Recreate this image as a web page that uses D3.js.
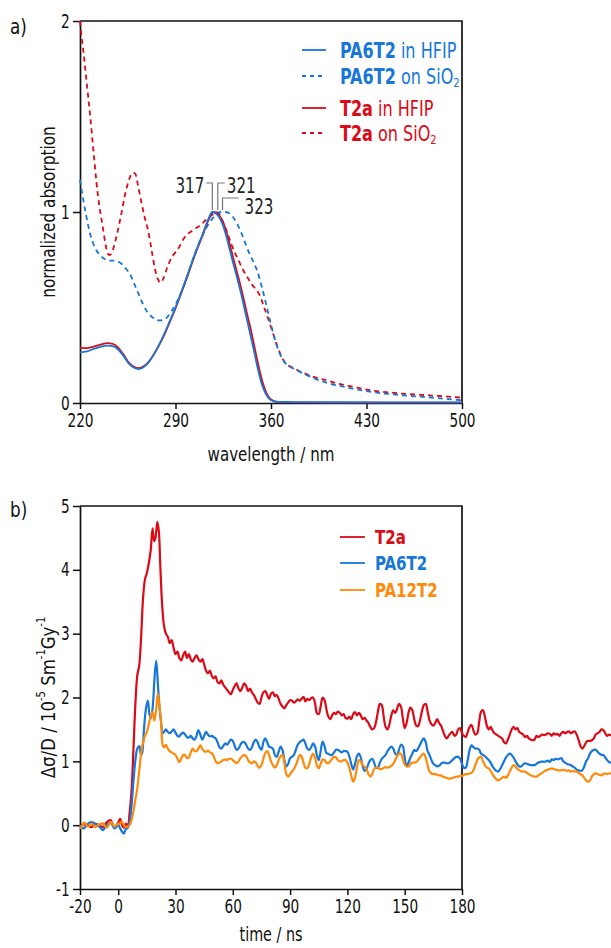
<!DOCTYPE html>
<html>
<head>
<meta charset="utf-8">
<script src="https://cdn.jsdelivr.net/npm/d3@7"></script>
<style>
  html, body { margin: 0; padding: 0; background: #fff; }
  svg { display: block; }
</style>
</head>
<body>
<svg id="fig" width="611" height="948"></svg>
<script>
// ---------- a) UV-vis absorption spectra: [wavelength nm, normalized absorption] ----------
const pa6t2Hfip = [[220,0.265],[225,0.27],[230,0.283],[235,0.294],[240,0.30],[244,0.298],[248,0.28],[252,0.245],[256,0.205],[260,0.183],[263,0.178],[266,0.185],[270,0.21],[275,0.265],[280,0.335],[285,0.415],[290,0.50],[295,0.595],[300,0.695],[305,0.795],[310,0.885],[314,0.962],[317,1.0],[320,0.99],[323,0.96],[326,0.905],[329,0.825],[332,0.74],[335,0.66],[338,0.575],[341,0.48],[344,0.385],[347,0.29],[350,0.19],[353,0.105],[356,0.05],[359,0.02],[362,0.009],[366,0.006],[375,0.005],[400,0.004],[450,0.003],[500,0.003]];
const t2aHfip = [[220,0.29],[225,0.287],[230,0.295],[235,0.305],[240,0.313],[244,0.31],[248,0.29],[252,0.252],[256,0.21],[260,0.188],[263,0.183],[266,0.19],[270,0.213],[275,0.265],[280,0.33],[285,0.41],[290,0.495],[295,0.59],[300,0.69],[305,0.79],[310,0.88],[314,0.955],[318,1.0],[321,0.99],[324,0.96],[327,0.905],[330,0.825],[333,0.74],[336,0.66],[339,0.575],[342,0.48],[345,0.39],[348,0.29],[351,0.19],[354,0.105],[357,0.048],[360,0.018],[364,0.006],[370,0.003],[400,0.002],[500,0.002]];
const t2aSio2 = [[220,2.0],[221,1.93],[222.5,1.84],[225,1.67],[227.5,1.50],[230,1.31],[232,1.16],[234,1.04],[236.5,0.93],[238.5,0.84],[240.5,0.78],[242,0.775],[244,0.80],[247,0.88],[250,0.98],[253,1.09],[256,1.17],[258.5,1.205],[260.5,1.2],[262.5,1.14],[265,1.05],[267.5,0.97],[270,0.90],[272.5,0.80],[275,0.70],[277,0.65],[279,0.63],[281,0.65],[284,0.71],[287,0.76],[290,0.79],[293,0.82],[296,0.86],[299,0.885],[302,0.9],[305,0.915],[308,0.93],[311,0.95],[314,0.97],[317,0.985],[320,1.0],[322,0.99],[325,0.945],[328,0.89],[331,0.83],[334,0.78],[337,0.735],[340,0.69],[343,0.655],[346,0.62],[349,0.595],[352,0.56],[355,0.5],[358,0.44],[361,0.375],[364,0.31],[367,0.255],[370,0.215],[373,0.195],[376,0.185],[380,0.17],[390,0.14],[400,0.12],[410,0.10],[420,0.085],[430,0.07],[440,0.06],[450,0.053],[460,0.047],[470,0.043],[480,0.038],[490,0.033],[500,0.028]];
const pa6t2Sio2 = [[220,1.17],[222,1.08],[224,1.0],[226,0.93],[228,0.87],[230,0.83],[232,0.80],[234,0.78],[236,0.765],[239,0.75],[242,0.745],[245,0.745],[248,0.74],[251,0.725],[254,0.70],[257,0.67],[260,0.62],[263,0.57],[266,0.52],[269,0.48],[272,0.455],[275,0.44],[278,0.432],[281,0.435],[284,0.45],[287,0.48],[290,0.515],[293,0.56],[296,0.61],[299,0.67],[302,0.735],[305,0.795],[308,0.85],[311,0.895],[314,0.935],[317,0.965],[320,0.985],[323,1.0],[326,1.0],[329,0.995],[332,0.975],[335,0.94],[338,0.895],[341,0.84],[344,0.785],[347,0.74],[350,0.69],[353,0.615],[356,0.53],[359,0.44],[362,0.355],[365,0.285],[368,0.235],[371,0.205],[374,0.19],[378,0.175],[385,0.15],[393,0.125],[401,0.105],[410,0.09],[420,0.075],[430,0.062],[440,0.052],[450,0.045],[460,0.038],[470,0.033],[480,0.027],[490,0.02],[500,0.015]];
const peakLabels = [317, 321, 323];
const wavelengthTicks = [220, 290, 360, 430, 500];
const absorptionTicks = [0, 1, 2];

// ---------- b) PR-TRMC transients: [time ns, delta sigma / D in 1e-5 S m^-1 Gy^-1] ----------
const t2aTrace = [[-20,-0.02],[-18,0.01],[-16,0.0],[-14,-0.03],[-12,0.02],[-10,0.0],[-8,-0.03],[-6,0.05],[-4,0.08],[-3,0.02],[-2,-0.03],[0,0.04],[1,0.1],[2,0.0],[3,-0.04],[4,0.02],[5,0.0],[6,0.2],[7,0.55],[8,1.2],[9,1.9],[10,2.35],[11,2.5],[12,2.95],[13,3.55],[14,3.85],[15,3.95],[16,4.1],[17,4.3],[18,4.65],[18.8,4.45],[19.5,4.5],[20.5,4.75],[21.3,4.6],[22,4.1],[23,3.45],[24,3.12],[25,3.0],[26,2.95],[27,2.85],[28,2.9],[29,2.78],[30,2.68],[31,2.72],[32,2.62],[33,2.58],[34,2.66],[35,2.72],[36,2.62],[37,2.68],[38,2.6],[39,2.56],[40,2.62],[41,2.66],[42,2.6],[43,2.56],[44,2.6],[45,2.52],[46,2.42],[47,2.38],[48,2.42],[49,2.34],[50,2.3],[51,2.33],[52,2.24],[53,2.22],[54,2.27],[55,2.2],[56,2.16],[57,2.12],[58,2.08],[59,2.05],[60,2.12],[61,2.18],[62,2.22],[63,2.14],[64,2.1],[65,2.16],[66,2.22],[67,2.18],[68,2.1],[69,2.14],[70,2.08],[71,2.04],[72,1.98],[73,1.92],[74,1.9],[75,2.0],[76,2.08],[77,2.1],[78,2.04],[79,1.98],[80,2.06],[81,2.08],[82,2.02],[83,2.04],[84,1.98],[85,1.9],[86,1.86],[87,1.83],[88,1.88],[89,1.92],[90,1.96],[91,1.95],[92,1.92],[93,1.94],[94,1.97],[95,1.95],[96,1.98],[97,2.01],[98,1.94],[99,1.98],[100,1.96],[101,1.99],[102,2.0],[103,1.92],[104,1.76],[105,1.74],[106,1.86],[107,2.0],[108,1.96],[109,1.82],[110,1.7],[111,1.66],[112,1.72],[113,1.76],[114,1.74],[115,1.78],[116,1.76],[117,1.72],[118,1.74],[119,1.68],[120,1.67],[121,1.7],[122,1.66],[123,1.74],[124,1.77],[125,1.72],[126,1.76],[127,1.72],[128,1.66],[129,1.68],[130,1.64],[131,1.6],[132,1.54],[133,1.5],[134,1.52],[135,1.62],[136,1.78],[137,1.9],[138,1.88],[139,1.7],[140,1.54],[141,1.5],[142,1.58],[143,1.72],[144,1.8],[145,1.76],[146,1.82],[147,1.9],[148,1.86],[149,1.68],[150,1.52],[151,1.6],[152,1.76],[153,1.84],[154,1.8],[155,1.66],[156,1.56],[157,1.55],[158,1.64],[159,1.78],[160,1.88],[161,1.9],[162,1.78],[163,1.64],[164,1.58],[165,1.56],[166,1.6],[167,1.66],[168,1.6],[169,1.56],[170,1.48],[171,1.4],[172,1.36],[173,1.4],[174,1.44],[175,1.46],[176,1.4],[177,1.42],[178,1.5],[179,1.52],[180,1.44],[181,1.4],[182,1.38],[183,1.46],[184,1.54],[185,1.57],[186,1.48],[187,1.42],[188,1.44],[189,1.62],[190,1.78],[191,1.8],[192,1.7],[193,1.56],[194,1.5],[195,1.54],[196,1.48],[197,1.44],[198,1.42],[199,1.4],[200,1.38],[201,1.36],[202,1.3],[203,1.28],[204,1.34],[205,1.42],[206,1.5],[207,1.54],[208,1.5],[209,1.52],[210,1.46],[211,1.44],[212,1.42],[213,1.38],[214,1.4],[215,1.36],[216,1.34],[217,1.33],[218,1.34],[219,1.4],[220,1.38],[221,1.4],[222,1.42],[223,1.41],[224,1.42],[225,1.44],[226,1.43],[227,1.4],[228,1.44],[229,1.42],[230,1.43],[231,1.4],[232,1.44],[233,1.46],[234,1.44],[235,1.46],[236,1.47],[237,1.44],[238,1.46],[239,1.47],[240,1.42],[241,1.34],[242,1.24],[243,1.2],[244,1.24],[245,1.3],[246,1.32],[247,1.32],[248,1.33],[249,1.36],[250,1.42],[251,1.44],[252,1.46],[253,1.5],[254,1.49],[255,1.44],[256,1.4],[257,1.42],[258,1.4]];
const pa6t2Trace = [[-20,0.0],[-19,-0.04],[-18,-0.05],[-17,-0.02],[-16,0.02],[-15,0.04],[-14,0.05],[-13,0.04],[-12,0.02],[-11,0.0],[-10,-0.02],[-9,-0.05],[-8,-0.08],[-7,-0.04],[-6,0.0],[-5,0.03],[-4,0.04],[-3,0.0],[-2,-0.05],[-1,-0.03],[0,0.01],[1,-0.05],[2,-0.1],[3,-0.13],[4,-0.06],[5,-0.04],[6,0.05],[7,0.3],[8,0.7],[9,1.02],[10,1.2],[11,1.24],[12,1.1],[12.6,1.14],[13.5,1.5],[14.5,1.82],[15.5,1.95],[16.5,1.72],[17.2,1.68],[18.2,1.9],[19,2.3],[19.9,2.58],[20.8,2.2],[21.6,1.85],[22.5,1.6],[23.3,1.44],[24,1.46],[25,1.5],[26,1.46],[27,1.44],[28,1.47],[29,1.5],[30,1.45],[31,1.4],[32,1.39],[33,1.43],[34,1.45],[35,1.42],[36,1.38],[37,1.37],[38,1.4],[39,1.36],[40,1.34],[41,1.4],[42,1.49],[43,1.42],[44,1.34],[45,1.4],[46,1.46],[47,1.42],[48,1.39],[49,1.4],[50,1.38],[51,1.36],[52,1.3],[53,1.22],[54,1.2],[55,1.24],[56,1.28],[57,1.26],[58,1.3],[59,1.34],[60,1.32],[61,1.24],[62,1.18],[63,1.2],[64,1.26],[65,1.3],[66,1.3],[67,1.26],[68,1.2],[69,1.18],[70,1.22],[71,1.3],[72,1.34],[73,1.3],[74,1.22],[75,1.18],[76,1.3],[77,1.36],[78,1.3],[79,1.23],[80,1.22],[81,1.2],[82,1.1],[83,1.07],[84,1.15],[85,1.23],[86,1.18],[87,1.02],[88,0.92],[89,0.96],[90,1.05],[91,1.07],[92,1.1],[93,1.18],[94,1.26],[95,1.3],[96,1.32],[97,1.34],[98,1.28],[99,1.2],[100,1.18],[101,1.22],[102,1.28],[103,1.24],[104,1.1],[105,1.02],[106,1.16],[107,1.31],[108,1.24],[109,1.13],[110,1.12],[111,1.1],[112,1.1],[113,1.14],[114,1.18],[115,1.18],[116,1.16],[117,1.14],[118,1.16],[119,1.16],[120,1.15],[121,1.08],[122,0.96],[123,0.87],[124,0.96],[125,1.08],[126,1.12],[127,1.06],[128,0.92],[129,0.85],[130,0.88],[131,0.96],[132,1.02],[133,1.04],[134,0.98],[135,0.9],[136,0.9],[137,0.98],[138,1.04],[139,1.07],[140,1.1],[141,1.16],[142,1.2],[143,1.23],[144,1.2],[145,1.12],[146,1.1],[147,1.18],[148,1.26],[149,1.24],[150,1.06],[151,0.93],[152,0.98],[153,1.06],[154,1.12],[155,1.18],[156,1.16],[157,1.2],[158,1.26],[159,1.32],[160,1.36],[161,1.3],[162,1.16],[163,1.1],[164,1.02],[165,0.96],[166,0.94],[167,0.92],[168,0.93],[169,0.96],[170,0.98],[171,0.98],[172,0.97],[173,0.97],[174,0.99],[175,1.02],[176,1.05],[177,1.07],[178,1.07],[179,1.04],[180,0.96],[181,0.9],[182,0.9],[183,1.02],[184,1.18],[185,1.25],[186,1.22],[187,1.2],[188,1.2],[189,1.18],[190,1.12],[191,1.1],[192,1.08],[193,1.05],[194,1.02],[195,0.98],[196,0.92],[197,0.88],[198,0.85],[199,0.84],[200,0.88],[201,0.94],[202,1.0],[203,1.06],[204,1.1],[205,1.12],[206,1.1],[207,1.06],[208,1.0],[209,0.95],[210,0.92],[211,0.92],[212,0.95],[213,0.97],[214,0.96],[215,0.95],[216,0.94],[217,0.94],[218,0.94],[219,0.96],[220,0.98],[221,0.99],[222,1.0],[223,0.99],[224,1.0],[225,1.01],[226,0.99],[227,1.03],[228,1.02],[229,1.04],[230,1.03],[231,1.04],[232,1.05],[233,1.0],[234,0.98],[235,0.96],[236,0.95],[237,0.94],[238,0.92],[239,0.9],[240,0.87],[241,0.86],[242,0.85],[243,0.86],[244,0.92],[245,1.0],[246,1.05],[247,1.12],[248,1.16],[249,1.18],[250,1.18],[251,1.15],[252,1.12],[253,1.1],[254,1.1],[255,1.06],[256,1.02],[257,0.99],[258,0.98]];
const pa12t2Trace = [[-20,-0.05],[-19,-0.02],[-18,0.04],[-17,0.02],[-16,-0.02],[-15,-0.01],[-14,0.02],[-13,0.0],[-12,-0.03],[-11,-0.01],[-10,0.01],[-9,0.02],[-8,0.03],[-7,-0.01],[-6,-0.04],[-5,0.0],[-4,0.05],[-3,0.02],[-2,-0.02],[-1,0.0],[0,0.02],[1,0.04],[2,0.05],[3,0.0],[4,-0.03],[5,-0.02],[6,0.0],[7,0.08],[8,0.22],[9,0.4],[10,0.58],[11,0.85],[12,1.12],[13,1.3],[14,1.4],[15,1.46],[16,1.58],[17,1.7],[18,1.77],[19,1.64],[20,1.85],[20.7,2.06],[21.5,1.9],[22.5,1.6],[23.3,1.25],[24,1.22],[25,1.26],[26,1.2],[27,1.16],[28,1.14],[29,1.12],[30,1.1],[31,1.04],[32,0.99],[33,1.04],[34,1.1],[35,1.1],[36,1.05],[37,1.06],[38,1.14],[39,1.2],[40,1.16],[41,1.16],[42,1.2],[43,1.25],[44,1.2],[45,1.16],[46,1.15],[47,1.17],[48,1.14],[49,1.13],[50,1.08],[51,1.0],[52,0.97],[53,0.98],[54,1.0],[55,1.02],[56,1.03],[57,1.02],[58,1.04],[59,1.04],[60,1.02],[61,0.99],[62,0.97],[63,1.0],[64,1.05],[65,1.08],[66,1.1],[67,1.08],[68,1.02],[69,0.98],[70,0.97],[71,1.0],[72,0.98],[73,0.93],[74,0.9],[75,0.94],[76,1.04],[77,1.13],[78,1.16],[79,1.1],[80,1.0],[81,0.94],[82,0.9],[83,0.94],[84,1.02],[85,1.08],[86,1.1],[87,0.98],[88,0.8],[89,0.76],[90,0.8],[91,0.84],[92,0.88],[93,0.94],[94,1.02],[95,1.1],[96,1.08],[97,0.98],[98,0.9],[99,0.89],[100,0.96],[101,1.06],[102,1.12],[103,1.06],[104,0.94],[105,0.89],[106,0.96],[107,1.03],[108,1.02],[109,0.98],[110,0.97],[111,1.0],[112,1.04],[113,1.07],[114,1.06],[115,1.02],[116,1.0],[117,1.0],[118,1.02],[119,1.02],[120,0.98],[121,0.9],[122,0.78],[123,0.68],[124,0.74],[125,0.9],[126,1.02],[127,1.0],[128,0.94],[129,0.92],[130,0.88],[131,0.8],[132,0.76],[133,0.8],[134,0.88],[135,0.9],[136,0.9],[137,0.88],[138,0.88],[139,0.9],[140,0.91],[141,0.9],[142,0.91],[143,0.93],[144,0.96],[145,1.02],[146,1.08],[147,1.12],[148,1.12],[149,1.04],[150,0.95],[151,0.92],[152,0.92],[153,0.96],[154,0.98],[155,0.98],[156,0.99],[157,1.02],[158,1.06],[159,1.1],[160,1.12],[161,1.06],[162,0.94],[163,0.84],[164,0.81],[165,0.8],[166,0.8],[167,0.79],[168,0.78],[169,0.78],[170,0.76],[171,0.75],[172,0.74],[173,0.73],[174,0.73],[175,0.74],[176,0.75],[177,0.76],[178,0.76],[179,0.77],[180,0.77],[181,0.79],[182,0.8],[183,0.8],[184,0.81],[185,0.82],[186,0.86],[187,0.94],[188,1.02],[189,1.06],[190,1.07],[191,1.0],[192,0.94],[193,0.9],[194,0.89],[195,0.85],[196,0.8],[197,0.75],[198,0.72],[199,0.7],[200,0.72],[201,0.74],[202,0.76],[203,0.74],[204,0.78],[205,0.84],[206,0.9],[207,0.94],[208,0.92],[209,0.88],[210,0.86],[211,0.84],[212,0.84],[213,0.84],[214,0.82],[215,0.8],[216,0.78],[217,0.77],[218,0.76],[219,0.76],[220,0.78],[221,0.8],[222,0.82],[223,0.84],[224,0.86],[225,0.87],[226,0.88],[227,0.89],[228,0.88],[229,0.87],[230,0.86],[231,0.86],[232,0.86],[233,0.87],[234,0.86],[235,0.85],[236,0.86],[237,0.84],[238,0.85],[239,0.84],[240,0.84],[241,0.82],[242,0.8],[243,0.78],[244,0.74],[245,0.7],[246,0.68],[247,0.7],[248,0.76],[249,0.8],[250,0.81],[251,0.8],[252,0.79],[253,0.78],[254,0.8],[255,0.81],[256,0.8],[257,0.81],[258,0.81]];
const timeTicks = [-20, 0, 30, 60, 90, 120, 150, 180];
const signalTicks = [-1, 0, 1, 2, 3, 4, 5];

const RED = "#dc0a16", BLUE = "#1777d8", ORANGE = "#ff8a0a";
const FONT = "'DejaVu Sans Condensed','DejaVu Sans',sans-serif";

const svg = d3.select("#fig").style("font-family", FONT);
svg.append("rect").attr("width", 611).attr("height", 948).attr("fill", "#fff");

// text placed at (x, y), narrowed horizontally by factor f (optionally turned upright)
function label(x, y, f, opts = {}) {
  const rot = opts.rotate ? " rotate(-90)" : "";
  return svg.append("text")
    .attr("transform", `translate(${x},${y})${rot} scale(${f},1)`)
    .attr("text-anchor", opts.anchor || "start")
    .attr("dominant-baseline", "central")
    .attr("fill", opts.color || "#111")
    .attr("font-weight", opts.bold ? "bold" : null)
    .style("font-size", (opts.size || 20) + "px");
}

// ---------- scales ----------
const xA = d3.scaleLinear([220, 500], [80, 462]);
const yA = d3.scaleLinear([0, 2], [403, 21]);
const xB = d3.scaleLinear([-20, 180], [80, 462]);
const yB = d3.scaleLinear([-1, 5], [889, 506]);

const TICK_SQUEEZE = 0.8;
function styleAxis(g) {
  g.select(".domain").attr("stroke", "#111").attr("stroke-width", 1.7);
  g.selectAll(".tick line").attr("stroke", "#111").attr("stroke-width", 1.5);
  g.selectAll(".tick text").attr("fill", "#111").style("font-size", "19px").style("font-family", FONT)
    .attr("transform", `scale(${TICK_SQUEEZE},1)`);
}

function frame(xs, ys) {
  const [x0, x1] = xs.range(), [y0, y1] = ys.range();
  svg.append("path")
    .attr("d", `M${x0},${y1}H${x1}V${y0}`)
    .attr("fill", "none").attr("stroke", "#111").attr("stroke-width", 1.7);
}

const intLabel = d => String(d);

// ---------- panel a ----------
frame(xA, yA);
svg.append("g").attr("transform", `translate(0,${yA(0)})`)
  .call(d3.axisBottom(xA).tickValues(wavelengthTicks).tickFormat(intLabel).tickSizeInner(6).tickSizeOuter(0).tickPadding(5))
  .call(styleAxis);
svg.append("g").attr("transform", `translate(${xA(220)},0)`)
  .call(d3.axisLeft(yA).tickValues(absorptionTicks).tickFormat(intLabel).tickSizeInner(7).tickSizeOuter(0).tickPadding(6))
  .call(styleAxis);

const lineA = d3.line().x(d => xA(d[0])).y(d => yA(d[1])).curve(d3.curveMonotoneX);
const spectra = [
  { data: t2aSio2, color: RED, dash: "5,4" },
  { data: pa6t2Sio2, color: BLUE, dash: "5,4" },
  { data: t2aHfip, color: RED, dash: null },
  { data: pa6t2Hfip, color: BLUE, dash: null }
];
spectra.forEach(s => {
  svg.append("path").datum(s.data).attr("d", lineA)
    .attr("fill", "none").attr("stroke", s.color).attr("stroke-width", 1.8)
    .attr("stroke-dasharray", s.dash);
});

// peak position markers
const pk = peakLabels.map(v => xA(v));
const yPeak = yA(1) - 2;
const gPk = svg.append("g").attr("fill", "none").attr("stroke", "#777").attr("stroke-width", 1.2);
gPk.append("path").attr("d", `M${pk[0] - 6},183H${pk[0]}V${yPeak}`);
gPk.append("path").attr("d", `M${pk[1]},${yPeak}V183H${pk[1] + 7}`);
gPk.append("path").attr("d", `M${pk[2] + 2},${yPeak}V198H${pk[2] + 18}`);
label(pk[0] - 8, 185, 0.8, { anchor: "end", size: 21, color: "#222" }).text(peakLabels[0]);
label(pk[1] + 9, 185, 0.8, { size: 21, color: "#222" }).text(peakLabels[1]);
label(pk[2] + 24, 206, 0.8, { size: 21, color: "#222" }).text(peakLabels[2]);

// legend a
const legA = [
  { bold: "PA6T2", rest: " in HFIP", sub: null, color: BLUE, dash: null, y: 50 },
  { bold: "PA6T2", rest: " on SiO", sub: "2", color: BLUE, dash: "4,4", y: 76 },
  { bold: "T2a", rest: " in HFIP", sub: null, color: RED, dash: null, y: 108 },
  { bold: "T2a", rest: " on SiO", sub: "2", color: RED, dash: "4,4", y: 133 }
];
legA.forEach(l => {
  svg.append("line").attr("x1", 302).attr("x2", 326).attr("y1", l.y).attr("y2", l.y)
    .attr("stroke", l.color).attr("stroke-width", 1.8).attr("stroke-dasharray", l.dash);
  const t = label(340, l.y, 0.85, { size: 21, color: l.color });
  t.append("tspan").attr("font-weight", "bold").text(l.bold);
  t.append("tspan").text(l.rest);
  if (l.sub) t.append("tspan").attr("dy", 7).style("font-size", "13px").text(l.sub);
});

// axis titles a
label((xA(220) + xA(500)) / 2, 454, 0.84, { anchor: "middle" }).text("wavelength / nm");
label(48, yA(1), 0.85, { anchor: "middle", rotate: true }).text("normalized absorption");
label(10, 26, 0.85, { size: 22 }).text("a)");

// ---------- panel b ----------
frame(xB, yB);
svg.append("g").attr("transform", `translate(0,${yB(-1)})`)
  .call(d3.axisBottom(xB).tickValues(timeTicks).tickFormat(intLabel).tickSizeInner(6).tickSizeOuter(0).tickPadding(5))
  .call(styleAxis);
svg.append("g").attr("transform", `translate(${xB(-20)},0)`)
  .call(d3.axisLeft(yB).tickValues(signalTicks).tickFormat(intLabel).tickSizeInner(7).tickSizeOuter(0).tickPadding(6))
  .call(styleAxis);

const lineB = d3.line().x(d => xB(d[0])).y(d => yB(d[1])).curve(d3.curveCatmullRom.alpha(0.5));
[[t2aTrace, RED], [pa6t2Trace, BLUE], [pa12t2Trace, ORANGE]].forEach(([data, color]) => {
  svg.append("path").datum(data).attr("d", lineB)
    .attr("fill", "none").attr("stroke", color).attr("stroke-width", 2.2)
    .attr("stroke-linejoin", "round");
});

// legend b
const legB = [
  { name: "T2a", color: RED, y: 537 },
  { name: "PA6T2", color: BLUE, y: 563 },
  { name: "PA12T2", color: ORANGE, y: 590 }
];
legB.forEach(l => {
  svg.append("line").attr("x1", 340).attr("x2", 365).attr("y1", l.y).attr("y2", l.y)
    .attr("stroke", l.color).attr("stroke-width", 1.8);
  label(375, l.y, 0.88, { size: 19, color: l.color, bold: true }).text(l.name);
});

// axis titles b
label((xB(-20) + xB(180)) / 2, 935, 0.84, { anchor: "middle", size: 19 }).text("time / ns");
const yt = label(48, (yB(-1) + yB(5)) / 2, 0.92, { anchor: "middle", rotate: true });
yt.append("tspan").text("\u0394\u03c3/D / 10");
yt.append("tspan").attr("dy", -7).style("font-size", "12px").text("-5");
yt.append("tspan").attr("dy", 7).text(" Sm");
yt.append("tspan").attr("dy", -7).style("font-size", "12px").text("-1");
yt.append("tspan").attr("dy", 7).text("Gy");
yt.append("tspan").attr("dy", -7).style("font-size", "12px").text("-1");
label(10, 509, 0.85, { size: 22 }).text("b)");
</script>
</body>
</html>
